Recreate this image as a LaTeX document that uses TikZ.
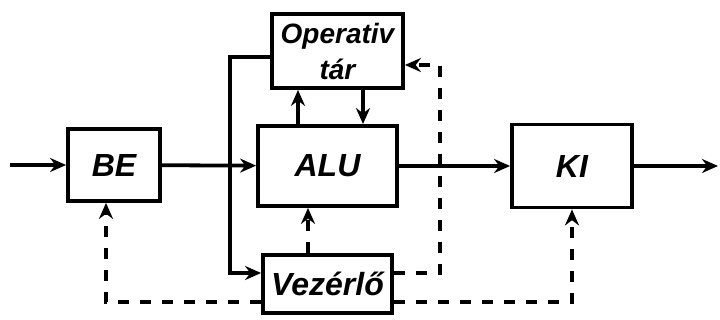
\documentclass[tikz,border=0pt]{standalone}
\usepackage{fontspec}
\setmainfont{Liberation Sans}
\usetikzlibrary{arrows.meta}
\tikzset{
  blk/.style={draw, line width=1.9pt, inner sep=0pt, font=\fontsize{16}{18}\selectfont\itshape\bfseries},
  conn/.style={line width=1.9pt, -{Stealth[length=8pt,width=7pt]}},
  dconn/.style={line width=1.7pt, dash pattern=on 5.5pt off 5.5pt, -{Stealth[length=8pt,width=7pt]}},
}
\begin{document}
\begin{tikzpicture}[x=0.5pt,y=-0.5pt]
\useasboundingbox (0,0) rectangle (720,320);
% blocks
\node[blk, minimum width=46pt, minimum height=36pt] (BE) at (114,165) {BE};
\node[blk, minimum width=65.5pt, minimum height=37pt, align=center,
      font=\fontsize{14}{18}\selectfont\itshape\bfseries] (Op) at (337.5,51) {Operativ\\tár};
\node[blk, minimum width=69.5pt, minimum height=40pt] (ALU) at (327.5,166) {ALU};
\node[blk, minimum width=64.5pt, minimum height=29pt] (Vez) at (327.5,284) {Vezérlő};
\node[blk, minimum width=60pt, minimum height=41.5pt] (KI) at (572,166) {KI};
% free ends and helper coordinates
\coordinate (in) at (10,165);
\coordinate (out) at (718,166);
\coordinate (j) at (230,165);
\coordinate (up) at (298,0);
\coordinate (dn) at (363,0);
\coordinate (cv) at (308,0);
\coordinate (rt) at (440,65);
\coordinate (bl) at (106,302);
% solid connectors
\draw[conn] (in) -- (BE);
\draw[conn] (BE) -- (ALU);
\draw[conn] ([yshift=-3pt]Op.west) -| (j) |- ([yshift=5.5pt]Vez.west);
\draw[conn] (ALU.north -| up) -- (Op.south -| up);
\draw[conn] (Op.south -| dn) -- (ALU.north -| dn);
\draw[conn] (ALU) -- (KI);
\draw[conn] (KI) -- (out);
% dashed control lines
\draw[dconn] (Vez.north -| cv) -- (ALU.south -| cv);
\draw[dconn] ([yshift=5.5pt]Vez.east) -| (rt) -- ([yshift=-7pt]Op.east);
\draw[dconn] ([yshift=-9pt]Vez.east) -| (KI.south);
\draw[dconn] ([yshift=-9pt]Vez.west) -| (BE.south -| bl);
\end{tikzpicture}
\end{document}
